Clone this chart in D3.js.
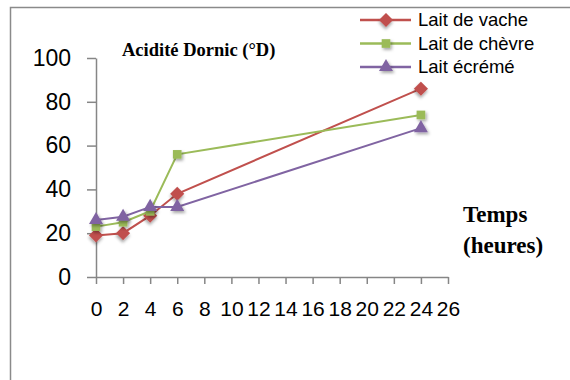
<!DOCTYPE html>
<html>
<head>
<meta charset="utf-8">
<script src="https://cdnjs.cloudflare.com/ajax/libs/d3/7.8.5/d3.min.js"></script>
<style>
  body { margin: 0; background: #fff; }
  svg { display: block; }
</style>
</head>
<body>
<script>
const hours = [0, 2, 4, 6, 24];
const laitVache = [19, 20, 28, 38, 86];
const laitChevre = [23, 25, 30, 56, 74];
const laitEcreme = [26, 27.5, 32, 32, 68];
const seriesNames = ['Lait de vache', 'Lait de chèvre', 'Lait écrémé'];
const xTicks = [0, 2, 4, 6, 8, 10, 12, 14, 16, 18, 20, 22, 24, 26];
const yTicks = [0, 20, 40, 60, 80, 100];

function plot()
{
    const W = 570, H = 380;
    const svg = d3.select('body').append('svg')
        .attr('width', W).attr('height', H);

    const defs = svg.append('defs');
    const f = defs.append('filter').attr('id', 'shadow')
        .attr('x', '-50%').attr('y', '-50%').attr('width', '200%').attr('height', '200%');
    f.append('feDropShadow')
        .attr('dx', 1.5).attr('dy', 2).attr('stdDeviation', 1.5)
        .attr('flood-color', '#000').attr('flood-opacity', 0.35);

    // outer frame (only top and left edges visible)
    svg.append('path')
        .attr('d', 'M10.5,380 V7.5 H570')
        .attr('fill', 'none').attr('stroke', '#8a8a8a').attr('stroke-width', 1.5);

    const x = d3.scaleLinear().domain([0, 26]).range([96, 448]);
    const y = d3.scaleLinear().domain([0, 100]).range([277, 58]);

    const gx = svg.append('g').attr('transform', 'translate(0,277)')
        .call(d3.axisBottom(x).tickValues(xTicks).tickSizeInner(7).tickSizeOuter(0).tickPadding(17));
    const gy = svg.append('g').attr('transform', 'translate(96,0)')
        .call(d3.axisLeft(y).tickValues(yTicks).tickSizeInner(9).tickSizeOuter(0).tickPadding(16));

    [gx, gy].forEach(g => {
        g.select('.domain').attr('stroke', '#868686').attr('stroke-width', 1.5);
        g.selectAll('.tick line').attr('stroke', '#868686').attr('stroke-width', 1.5);
        g.selectAll('text').attr('fill', '#000').attr('font-family', 'Liberation Sans, Arial, sans-serif');
    });
    gx.selectAll('text').attr('font-size', 21);
    gy.selectAll('text').attr('font-size', 23);

    const series = [
        { name: seriesNames[0], values: laitVache, color: '#C0504D', shape: 'diamond' },
        { name: seriesNames[1], values: laitChevre, color: '#9BBB59', shape: 'square' },
        { name: seriesNames[2], values: laitEcreme, color: '#8064A2', shape: 'triangle' },
    ];

    const symbols = {
        diamond: d3.symbol().type(d3.symbolSquare).size(100),
        square: d3.symbol().type(d3.symbolSquare).size(75),
        triangle: d3.symbol().type(d3.symbolTriangle).size(85),
    };
    const rot = { diamond: ' rotate(45)', square: '', triangle: '' };

    const line = d3.line().x(d => x(d[0])).y(d => y(d[1]));

    series.forEach(s => {
        const pts = hours.map((h, i) => [h, s.values[i]]);
        const g = svg.append('g');
        g.append('path')
            .attr('d', line(pts))
            .attr('fill', 'none').attr('stroke', s.color).attr('stroke-width', 2);
        g.selectAll('path.m').data(pts).enter().append('path')
            .attr('class', 'm')
            .attr('d', symbols[s.shape])
            .attr('transform', d => `translate(${x(d[0])},${y(d[1])})${rot[s.shape]}`)
            .attr('fill', s.color)
            .attr('filter', 'url(#shadow)');
    });

    // legend
    const leg = svg.append('g');
    const rowY = d3.scalePoint().domain(seriesNames).range([20, 67]);
    series.forEach(s => {
        const ry = rowY(s.name);
        leg.append('line')
            .attr('x1', 360).attr('x2', 411).attr('y1', ry).attr('y2', ry)
            .attr('stroke', s.color).attr('stroke-width', 2.5);
        leg.append('path')
            .attr('d', symbols[s.shape])
            .attr('transform', `translate(386,${ry})${rot[s.shape]}`)
            .attr('fill', s.color)
            .attr('filter', 'url(#shadow)');
        leg.append('text')
            .attr('x', 418).attr('y', ry).attr('dy', '0.35em')
            .attr('font-family', 'Liberation Sans, Arial, sans-serif')
            .attr('font-size', 18.5)
            .text(s.name);
    });

    // titles
    svg.append('text')
        .attr('x', 122).attr('y', 56)
        .attr('font-family', 'Liberation Serif, Times New Roman, serif')
        .attr('font-weight', 'bold').attr('font-size', 18.5)
        .text('Acidité Dornic (°D)');
    const t = svg.append('text')
        .attr('font-family', 'Liberation Serif, Times New Roman, serif')
        .attr('font-weight', 'bold').attr('font-size', 23);
    t.append('tspan').attr('x', 463).attr('y', 222).text('Temps');
    t.append('tspan').attr('x', 463).attr('y', 253).text('(heures)');
}

plot();
</script>
</body>
</html>
